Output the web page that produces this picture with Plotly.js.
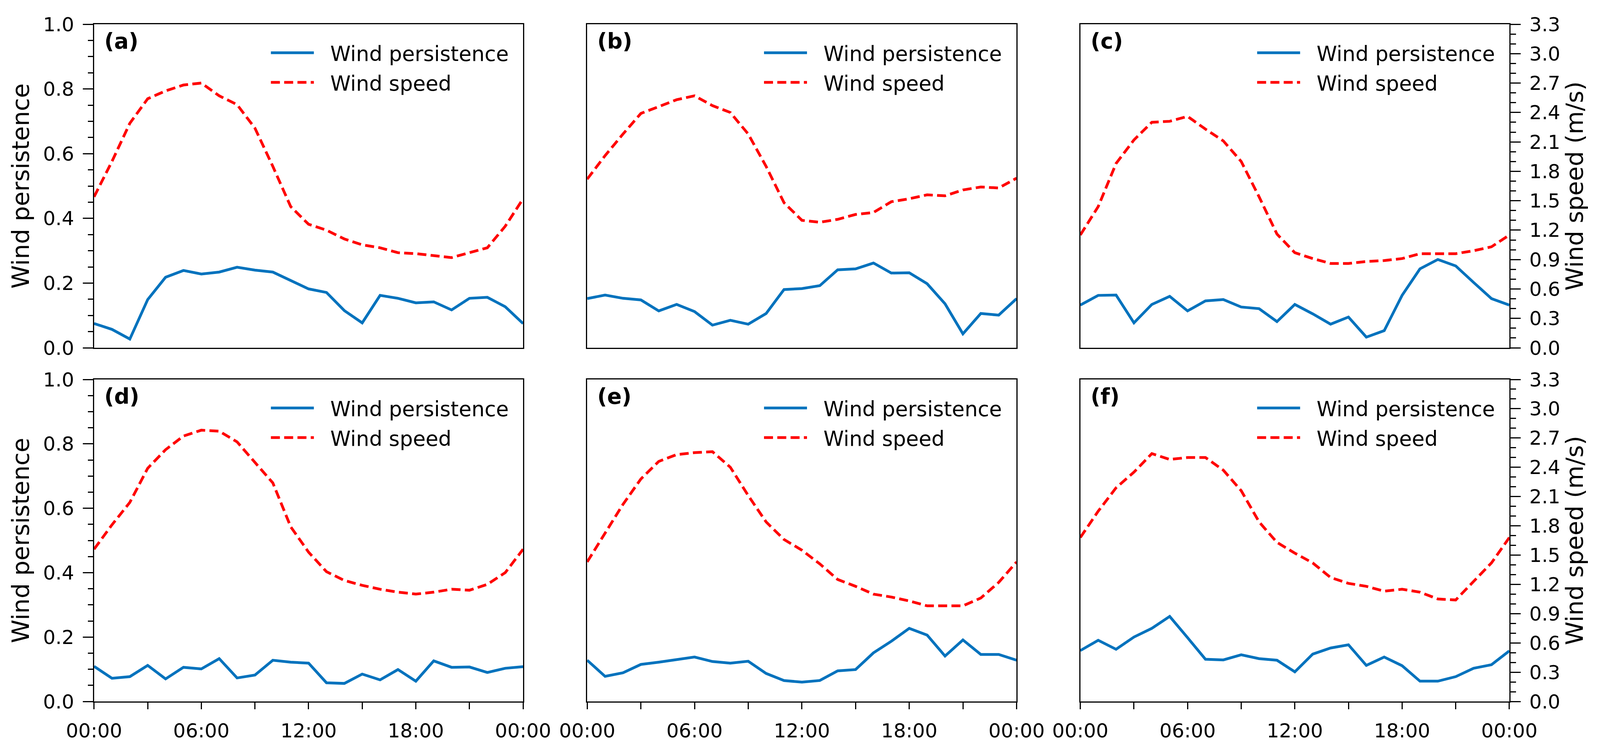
<!DOCTYPE html>
<html>
<head>
<meta charset="utf-8">
<script src="https://cdn.plot.ly/plotly-3.0.1.min.js"></script>
<style>
html,body{margin:0;padding:0;background:#fff;overflow:hidden;}
#chart{width:100vw;height:100vh;}
</style>
</head>
<body>
<div id="chart"></div>
<script>
// ---- data ----
const hours = [0,1,2,3,4,5,6,7,8,9,10,11,12,13,14,15,16,17,18,19,20,21,22,23,24];
const hourTicks = [0,3,6,9,12,15,18,21,24];
const hourLabels = ['00:00','','06:00','','12:00','','18:00','','00:00'];
const persTicks = [0,0.2,0.4,0.6,0.8,1.0];
const persLabels = ['0.0','0.2','0.4','0.6','0.8','1.0'];
const speedTicks = [0,0.3,0.6,0.9,1.2,1.5,1.8,2.1,2.4,2.7,3.0,3.3];
const speedLabels = ['0.0','0.3','0.6','0.9','1.2','1.5','1.8','2.1','2.4','2.7','3.0','3.3'];
const panelLabels = ['(a)','(b)','(c)','(d)','(e)','(f)'];

const persA = [0.075,0.057,0.027,0.149,0.218,0.239,0.228,0.234,0.249,0.240,0.234,0.207,0.182,0.171,0.115,0.077,0.162,0.153,0.139,0.142,0.117,0.153,0.156,0.127,0.075];
const speedA = [1.54,1.90,2.29,2.54,2.62,2.68,2.70,2.57,2.48,2.24,1.85,1.44,1.26,1.20,1.11,1.05,1.02,0.97,0.96,0.94,0.92,0.97,1.02,1.24,1.52];
const persB = [0.152,0.163,0.153,0.148,0.114,0.134,0.112,0.070,0.085,0.073,0.106,0.180,0.183,0.192,0.241,0.244,0.262,0.231,0.232,0.198,0.136,0.043,0.106,0.101,0.152];
const speedB = [1.72,1.96,2.18,2.39,2.46,2.53,2.57,2.47,2.40,2.18,1.85,1.48,1.30,1.28,1.31,1.36,1.38,1.49,1.52,1.56,1.55,1.61,1.64,1.63,1.73];
const persC = [0.132,0.162,0.163,0.077,0.134,0.159,0.114,0.145,0.149,0.126,0.121,0.081,0.134,0.105,0.073,0.095,0.033,0.053,0.162,0.244,0.273,0.253,0.202,0.152,0.132];
const speedC = [1.15,1.44,1.88,2.12,2.30,2.31,2.36,2.23,2.11,1.90,1.54,1.16,0.97,0.91,0.86,0.86,0.88,0.89,0.91,0.96,0.96,0.96,0.99,1.03,1.15];
const persD = [0.109,0.072,0.077,0.112,0.070,0.106,0.101,0.133,0.073,0.082,0.128,0.122,0.119,0.058,0.056,0.085,0.067,0.099,0.063,0.126,0.106,0.107,0.090,0.103,0.108];
const speedD = [1.56,1.81,2.04,2.39,2.58,2.72,2.78,2.77,2.66,2.45,2.24,1.79,1.53,1.33,1.24,1.19,1.15,1.12,1.10,1.12,1.15,1.14,1.20,1.32,1.56];
const persE = [0.128,0.078,0.089,0.115,0.122,0.130,0.138,0.124,0.119,0.125,0.087,0.065,0.060,0.065,0.095,0.099,0.151,0.187,0.227,0.206,0.141,0.191,0.146,0.146,0.128];
const speedE = [1.43,1.73,2.02,2.28,2.46,2.53,2.55,2.56,2.40,2.11,1.84,1.66,1.55,1.41,1.25,1.18,1.10,1.07,1.03,0.98,0.98,0.98,1.06,1.22,1.43];
const persF = [0.158,0.190,0.162,0.200,0.227,0.264,0.198,0.131,0.129,0.145,0.133,0.128,0.092,0.147,0.166,0.176,0.112,0.138,0.111,0.063,0.063,0.077,0.103,0.114,0.157];
const speedF = [1.68,1.95,2.19,2.35,2.54,2.48,2.50,2.50,2.37,2.16,1.84,1.63,1.52,1.42,1.27,1.21,1.18,1.13,1.15,1.12,1.05,1.04,1.23,1.42,1.68];

const persSeries = [persA, persB, persC, persD, persE, persF];
const speedSeries = [speedA, speedB, speedC, speedD, speedE, speedF];

// ---- layout geometry (fractions of a 4218 x 1909 frame, fitted to the viewport) ----
const W0 = 4218, H0 = 1909;
const VW = window.innerWidth || W0, VH = window.innerHeight || H0;
const colL = [248, 1548, 2848], colR = [1379, 2680, 3979];
const rowT = [62, 971], rowB = [890, 1795];
const FONT = 'DejaVu Sans, Liberation Sans, sans-serif';
const BLUE = '#0072BD', RED = '#FF0000';

const traces = [];
const layout = {
  width: VW, height: VH,
  margin: {l: 0, r: 0, t: 0, b: 0},
  paper_bgcolor: '#ffffff', plot_bgcolor: '#ffffff',
  font: {family: FONT, color: '#000000', size: 50},
  annotations: [],
  showlegend: true
};

for (let k = 0; k < 6; k++) {
  const r = Math.floor(k / 3), c = k % 3;
  const xn = k + 1, yl = 2 * k + 1, yr = 2 * k + 2;
  const xKey = 'xaxis' + (xn === 1 ? '' : xn);
  const ylKey = 'yaxis' + (yl === 1 ? '' : yl);
  const yrKey = 'yaxis' + yr;
  const xId = 'x' + (xn === 1 ? '' : xn);
  const ylId = 'y' + (yl === 1 ? '' : yl);
  const yrId = 'y' + yr;
  const legKey = 'legend' + (k === 0 ? '' : (k + 1));

  traces.push({
    x: hours, y: persSeries[k], xaxis: xId, yaxis: ylId,
    type: 'scatter', mode: 'lines', name: '\u2002\u2009Wind persistence',
    legendgroup: 'p' + k,
    line: {color: BLUE, width: 7}, legend: legKey
  });
  traces.push({
    x: hours, y: speedSeries[k], xaxis: xId, yaxis: yrId,
    type: 'scatter', mode: 'lines', name: '\u2002\u2009Wind speed',
    legendgroup: 's' + k,
    line: {color: RED, width: 7, dash: '23px,11px'}, legend: legKey
  });

  layout[xKey] = {
    domain: [colL[c] / W0, colR[c] / W0],
    anchor: ylId, range: [0, 24],
    showline: true, mirror: true, linecolor: '#000', linewidth: 3,
    showgrid: false, zeroline: false,
    tickmode: 'array', tickvals: hourTicks, ticktext: hourLabels,
    ticks: r === 1 ? 'outside' : '', ticklen: 17, tickwidth: 3, tickcolor: '#000',
    showticklabels: r === 1, tickfont: {size: 50, family: FONT},
    ticklabelstandoff: 12
  };

  layout[ylKey] = {
    domain: [1 - rowB[r] / H0, 1 - rowT[r] / H0],
    anchor: xId, range: [0, 1],
    showline: true, mirror: true, linecolor: '#000', linewidth: 3,
    showgrid: false, zeroline: false,
    tickmode: 'array', tickvals: persTicks, ticktext: persLabels,
    ticks: c === 0 ? 'outside' : '', ticklen: 26, tickwidth: 3, tickcolor: '#000',
    showticklabels: c === 0, tickfont: {size: 50, family: FONT},
    ticklabelstandoff: 12,
    minor: c === 0 ? {dtick: 0.05, tick0: 0, ticks: 'outside', ticklen: 13, tickwidth: 3, tickcolor: '#000', showgrid: false} : {ticks: ''},
    title: c === 0 ? {text: 'Wind persistence', font: {size: 61, family: FONT}, standoff: 16} : {text: ''}
  };

  layout[yrKey] = {
    overlaying: ylId, side: 'right', anchor: xId, range: [0, 3.3],
    showline: c === 2, linecolor: '#000', linewidth: 3,
    showgrid: false, zeroline: false,
    tickmode: 'array', tickvals: speedTicks, ticktext: speedLabels,
    ticks: c === 2 ? 'outside' : '', ticklen: 26, tickwidth: 3, tickcolor: '#000',
    showticklabels: c === 2, tickfont: {size: 50, family: FONT},
    ticklabelstandoff: 12,
    minor: c === 2 ? {dtick: 0.1, tick0: 0, ticks: 'outside', ticklen: 14, tickwidth: 3, tickcolor: '#000', showgrid: false} : {ticks: ''},
    title: c === 2 ? {text: 'Wind speed (m/s)', font: {size: 61, family: FONT}, standoff: 16} : {text: ''}
  };

  layout[legKey] = {
    x: (colL[c] + 461) / W0, xanchor: 'left',
    y: 1 - (rowT[r] + 32) / H0, yanchor: 'top',
    bgcolor: 'rgba(0,0,0,0)', borderwidth: 0,
    font: {size: 53, family: FONT, color: '#000'},
    itemwidth: 110, tracegroupgap: 4, traceorder: 'grouped'
  };

  layout.annotations.push({
    xref: 'paper', yref: 'paper',
    x: (colL[c] + 26) / W0, y: 1 - (rowT[r] + 10) / H0,
    xanchor: 'left', yanchor: 'top', showarrow: false, borderpad: 0,
    text: '<b>' + panelLabels[k] + '</b>',
    font: {size: 55, family: FONT, color: '#000'}
  });
}

Plotly.newPlot('chart', traces, layout, {displayModeBar: false, staticPlot: true});
</script>
</body>
</html>
